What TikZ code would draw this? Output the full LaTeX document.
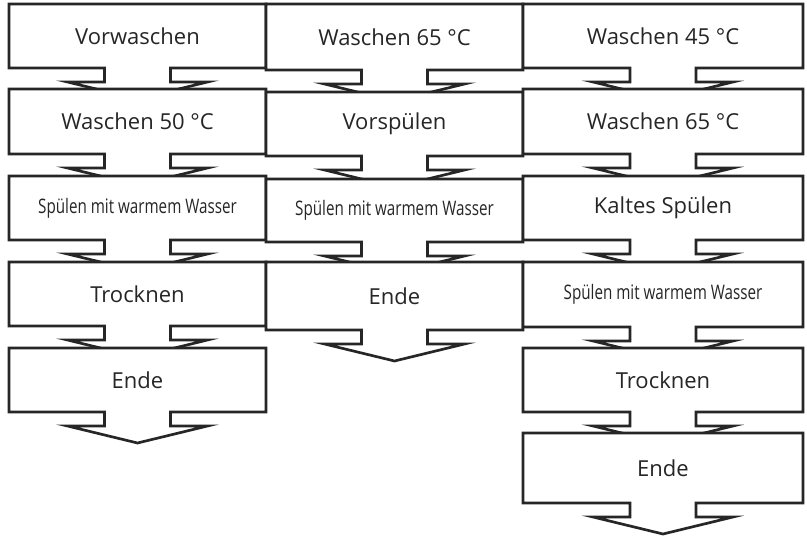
\documentclass[tikz,border=0pt]{standalone}
\usepackage{fontspec}
\setmainfont{Open Sans}
\newcommand\mybox[6]{%
  % name, x1, x2, y1, y2, text
  \pgfmathsetmacro\cx{(#2+#3)/2}%
  \draw[boxline] (#2,#4) -- (#3,#4) -- (#3,#5) -- (\cx+33,#5) -- (\cx+33,#5+14) -- (\cx+70,#5+14)
    -- (\cx,#5+31) -- (\cx-70,#5+14) -- (\cx-33,#5+14) -- (\cx-33,#5) -- (#2,#5) -- cycle;
  \node[lbl] (#1) at (\cx,{(#4+#5)/2}) {#6};}
\newcommand\sm[1]{\scalebox{0.76}[1]{\fontsize{15}{17}\selectfont #1}}
\begin{document}
\begin{tikzpicture}[x=0.75pt,y=-0.75pt,
  boxline/.style={draw=black!85,line width=2pt,fill=white,line join=miter},
  lbl/.style={font=\fontsize{16.5}{19}\selectfont,text=black!85,inner sep=0pt}]
\useasboundingbox (0,0) rectangle (807,539);
\mybox{a1}{9}{266}{4}{68}{Vorwaschen}
\mybox{a2}{9}{266}{89}{154}{Waschen 50 °C}
\mybox{a3}{9}{266}{176}{240}{\sm{Spülen mit warmem Wasser}}
\mybox{a4}{9}{266}{262}{326}{Trocknen}
\mybox{a5}{9}{266}{348}{412}{Ende}
\mybox{b1}{266}{523}{4}{70}{Waschen 65 °C}
\mybox{b2}{266}{523}{92}{156}{Vorspülen}
\mybox{b3}{266}{523}{179}{242}{\sm{Spülen mit warmem Wasser}}
\mybox{b4}{266}{523}{262}{330}{Ende}
\mybox{c1}{523}{803}{4}{68}{Waschen 45 °C}
\mybox{c2}{523}{803}{89}{154}{Waschen 65 °C}
\mybox{c3}{523}{803}{176}{240}{Kaltes Spülen}
\mybox{c4}{523}{803}{262}{327}{\sm{Spülen mit warmem Wasser}}
\mybox{c5}{523}{803}{348}{412}{Trocknen}
\mybox{c6}{523}{803}{433}{503}{Ende}
\end{tikzpicture}
\end{document}
